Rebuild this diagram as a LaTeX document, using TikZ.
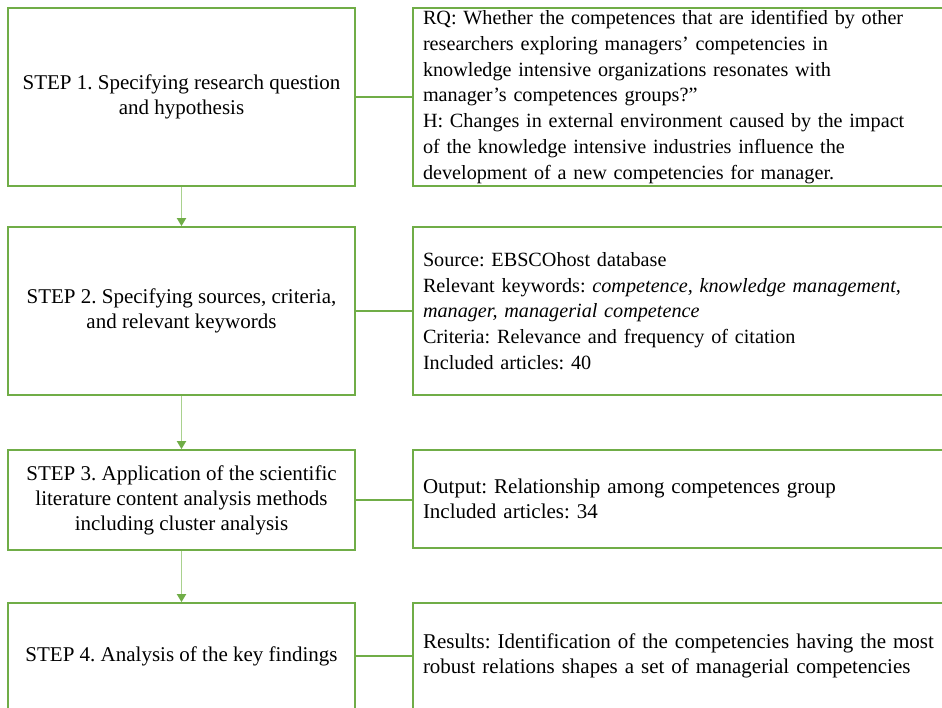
\documentclass[tikz,border=0pt]{standalone}
\usepackage{fontspec}
\setmainfont{Liberation Serif}
\usetikzlibrary{arrows.meta}
\definecolor{boxgreen}{HTML}{70AD47}
\definecolor{linegreen}{HTML}{A9D18E}
\tikzset{
  stepbox/.style={draw=boxgreen, line width=1.8pt, rectangle, align=center, inner sep=0pt,
    font=\fontsize{21}{25}\selectfont\frenchspacing},
  infobox/.style={draw=boxgreen, line width=1.8pt, rectangle, align=left, inner xsep=10pt, inner ysep=0pt,
    text width=527pt, font=\fontsize{20.2}{25.8}\selectfont\frenchspacing},
  bigtext/.style={font=\fontsize{21}{24.8}\selectfont\frenchspacing},
  link/.style={draw=boxgreen, line width=1.8pt},
  flow/.style={draw=linegreen, line width=1.8pt, -{Triangle[width=9pt,length=8pt,color=boxgreen,fill=boxgreen]}}
}
\begin{document}
\begin{tikzpicture}[x=1pt,y=-1pt]
\useasboundingbox (0,0) rectangle (942,707);
\clip (0,0) rectangle (942,707);
% left step boxes
\node[stepbox, minimum width=347pt, minimum height=178pt] (s1) at (181.5,97) {STEP 1. Specifying research question\\and hypothesis};
\node[stepbox, minimum width=347pt, minimum height=168pt] (s2) at (181.5,311) {STEP 2. Specifying sources, criteria,\\and relevant keywords};
\node[stepbox, minimum width=347pt, minimum height=100pt] (s3) at (181.5,500) {STEP 3. Application of the scientific\\literature content analysis methods\\including cluster analysis};
\node[stepbox, minimum width=347pt, minimum height=106pt] (s4) at (181.5,656) {STEP 4. Analysis of the key findings};
% right info boxes
\node[infobox, minimum height=178pt] (r1) at (686.5,97) {RQ: Whether the competences that are identified by other\\researchers exploring managers' competencies in\\knowledge intensive organizations resonates with\\manager's competences groups?''\\H: Changes in external environment caused by the impact\\of the knowledge intensive industries influence the\\development of a new competencies for manager.};
\node[infobox, minimum height=168pt] (r2) at (686.5,311) {Source: EBSCOhost database\\Relevant keywords: \textit{competence, knowledge management,}\\\textit{manager, managerial competence}\\Criteria: Relevance and frequency of citation\\Included articles: 40};
\node[infobox, bigtext, minimum height=98pt] (r3) at (686.5,499) {Output: Relationship among competences group\\Included articles: 34};
\node[infobox, bigtext, minimum height=106pt] (r4) at (686.5,656) {Results: Identification of the competencies having the most\\robust relations shapes a set of managerial competencies};
% connectors
\draw[link] (s1.east) -- (r1.west);
\draw[link] (s2.east) -- (r2.west);
\draw[link] (s3.east) -- (s3.east -| r3.west);
\draw[link] (s4.east) -- (r4.west);
\draw[flow] (s1.south) -- (s2.north);
\draw[flow] (s2.south) -- (s3.north);
\draw[flow] (s3.south) -- (s4.north);
\end{tikzpicture}
\end{document}
